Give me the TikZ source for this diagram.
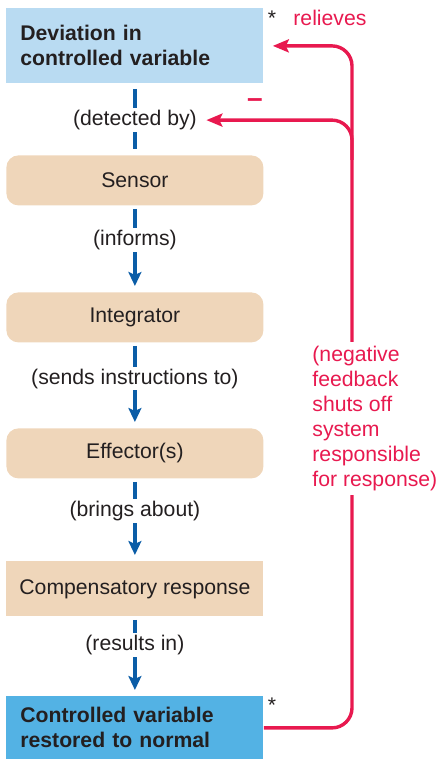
\documentclass[tikz,border=0pt]{standalone}
\usepackage{fontspec}
\setmainfont{Liberation Sans}
\usepackage{tikz}
\usetikzlibrary{arrows.meta}
\definecolor{hbpale}{HTML}{B9DBF2}
\definecolor{hbsky}{HTML}{53B2E4}
\definecolor{hbtan}{HTML}{EFD6BA}
\definecolor{hbblue}{HTML}{0B5DA7}
\definecolor{hbred}{HTML}{E8194F}
\definecolor{hbink}{HTML}{231F20}

\begin{document}
\begin{tikzpicture}[x=0.5pt,y=-0.5pt,font=\fontsize{10.6}{12.5}\selectfont,text=hbink,
  vbox/.style={anchor=north west,inner xsep=7pt,text width=114.5pt,minimum width=128.5pt,align=left,font=\fontsize{10.6}{12.5}\selectfont\bfseries},
  sbox/.style={anchor=north west,fill=hbtan,minimum width=128.5pt,minimum height=25pt,align=center},
  lbl/.style={fill=white,inner xsep=1.5pt,inner ysep=1pt},
  bflow/.style={draw=hbblue,line width=1.6pt,shorten <=1.5pt,shorten >=3pt},
  rflow/.style={draw=hbred,line width=1.7pt,-{Stealth[length=8pt,width=6.5pt,inset=1.5pt]}}]
\useasboundingbox (0,0) rectangle (438,759);
\node[vbox,fill=hbpale,minimum height=37.5pt] (dev) at (6,8) {Deviation in\\ controlled variable};
\node[sbox,rounded corners=6pt] (sen) at (6,155) {Sensor};\node[sbox,rounded corners=6pt] (int) at (6,292) {Integrator};\node[sbox,rounded corners=6pt] (eff) at (6,428) {Effector(s)};
\node[sbox,minimum height=27.5pt] (comp) at (6,561) {Compensatory response};
\node[vbox,fill=hbsky,minimum height=31.5pt] (ctrl) at (6,696) {Controlled variable\\ restored to normal};
\draw[bflow,shorten <=2.5pt] (dev) -- node[lbl,pos=0.51] (det) {(detected by)} (sen);
\draw[bflow,-{Stealth[length=7pt,width=6.5pt,inset=1.5pt]}] (sen) -- node[lbl,pos=0.40] {(informs)} (int);
\draw[bflow,-{Stealth[length=7pt,width=6.5pt,inset=1.5pt]}] (int) -- node[lbl,pos=0.42] {(sends instructions to)} (eff);
\draw[bflow,-{Stealth[length=7pt,width=6.5pt,inset=1.5pt]}] (eff) -- node[lbl,pos=0.39] {(brings about)} (comp);
\draw[bflow,-{Stealth[length=7pt,width=6.5pt,inset=1.5pt]}] (comp) -- node[lbl,pos=0.36] {(results in)} (ctrl);
\coordinate (loop) at (352,400);\coordinate (split) at (352,160);
\draw[rflow,rounded corners=10pt,shorten >=4.5pt] (ctrl.east) -| (loop) |- (dev.east);
\draw[rflow,rounded corners=10pt,shorten >=2.5pt] (split) |- (det.east);
\node[anchor=north west,fill=white,inner sep=2pt,align=left,text=hbred] (neg) at (308,342) {(negative\\ feedback\\ shuts off\\ system\\ responsible\\ for response)};
\node[anchor=base west,inner sep=0pt,text=hbred] (rel) at (293,26) {relieves};
\node[anchor=base,inner sep=0pt,text=hbred,font=\fontsize{14}{14}\selectfont\bfseries] (minus) at (255,108) {–};
\node[anchor=base,inner sep=0pt] (ast1) at (272,26) {*};\node[anchor=base,inner sep=0pt] (ast2) at (272,712) {*};
\end{tikzpicture}
\end{document}
